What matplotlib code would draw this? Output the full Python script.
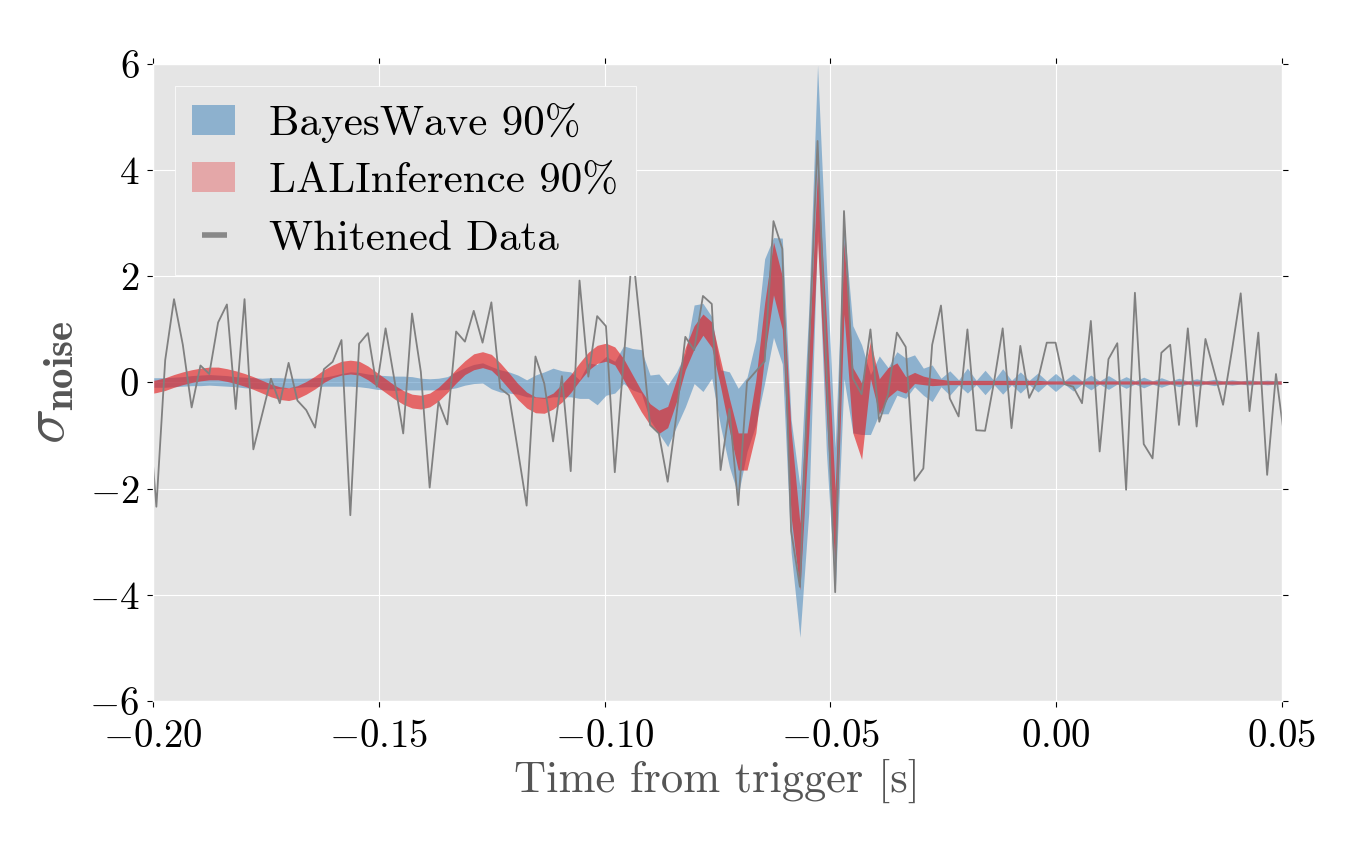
import matplotlib
matplotlib.use("Agg")
import matplotlib.pyplot as plt
import numpy as np
from matplotlib.lines import Line2D
from matplotlib.patches import Patch

# sample grid of the whitened strain (512 Hz), first sample just left of -0.2 s
SAMPLE_RATE = 512
T_START = -0.20126

whitened = [
    -0.30, -2.34, 0.42, 1.57, 0.71, -0.47, 0.32, 0.16, 1.13, 1.47,
    -0.50, 1.57, -1.26, -0.60, 0.07, -0.39, 0.37, -0.34, -0.52, -0.85,
    0.25, 0.39, 0.80, -2.50, 0.73, 0.93, -0.08, 1.02, 0.05, -0.96,
    1.30, 0.20, -1.98, -0.36, -0.79, 0.96, 0.77, 1.35, 0.75, 1.51,
    -0.11, -0.24, -1.27, -2.32, 0.49, -0.02, -1.11, 0.12, -1.67, 1.92,
    0.11, 1.25, 1.06, -1.69, 0.40, 2.50, 0.90, -0.80, -0.96, -1.87,
    -0.60, 0.86, 0.61, 1.63, 1.48, -1.65, -0.50, -2.31, 0.02, 0.21,
    0.40, 3.04, 2.52, -2.80, -3.85, 0.50, 4.55, 0.30, -3.95, 3.23,
    0.08, -0.22, 1.00, -0.74, -0.22, 0.94, 0.67, -1.85, -1.62, 0.71,
    1.45, -0.30, -0.64, 1.00, -0.90, -0.91, -0.01, 1.02, -0.86, 0.69,
    -0.29, 0.05, 0.75, 0.75, -0.03, -0.08, -0.39, 1.16, -1.30, 0.44,
    0.74, -2.02, 1.69, -1.16, -1.43, 0.56, 0.71, -0.80, 1.02, -0.83,
    0.82, 0.20, -0.42, 0.60, 1.68, -0.54, 0.94, -1.74, 0.16, -1.10,
]

# BayesWave 90% band
bw_lo = [
    -0.09, -0.09, -0.09, -0.08, -0.07, -0.06, -0.06, -0.05, -0.06, -0.07,
    -0.08, -0.10, -0.11, -0.12, -0.12, -0.11, -0.10, -0.09, -0.08, -0.08,
    -0.07, -0.07, -0.07, -0.07, -0.08, -0.10, -0.13, -0.14, -0.15, -0.14,
    -0.14, -0.14, -0.14, -0.14, -0.13, -0.10, -0.05, -0.02, -0.01, -0.12,
    -0.18, -0.20, -0.22, -0.27, -0.28, -0.30, -0.27, -0.27, -0.27, -0.30,
    -0.30, -0.42, -0.24, -0.20, -0.02, -0.14, -0.20, -0.71, -0.96, -1.21,
    -0.83, -0.46, -0.02, -0.17, 0.08, -0.83, -1.59, -2.12, -1.30, -0.80,
    -0.01, 0.85, 0.35, -3.20, -4.80, -2.46, 2.88, -1.31, -3.97, 0.07,
    -0.95, -0.98, -0.98, -0.59, -0.59, -0.24, -0.30, -0.08, -0.24, -0.36,
    -0.08, -0.24, -0.05, -0.20, -0.04, -0.23, -0.04, -0.22, -0.04, -0.20,
    -0.04, -0.18, -0.03, -0.17, -0.03, -0.16, -0.03, -0.14, -0.03, -0.13,
    -0.03, -0.11, -0.03, -0.10, -0.03, -0.09, -0.03, -0.08, -0.03, -0.07,
    -0.03, -0.06, -0.03, -0.05, -0.03, -0.05, -0.03, -0.045, -0.03, -0.04,
]
bw_hi = [
    0.09, 0.09, 0.09, 0.10, 0.11, 0.13, 0.14, 0.15, 0.14, 0.13,
    0.11, 0.10, 0.09, 0.08, 0.09, 0.09, 0.08, 0.08, 0.08, 0.09,
    0.10, 0.13, 0.17, 0.20, 0.19, 0.16, 0.14, 0.13, 0.12, 0.12,
    0.11, 0.08, 0.07, 0.08, 0.11, 0.20, 0.28, 0.34, 0.37, 0.30,
    0.24, 0.20, 0.14, 0.05, 0.14, 0.20, 0.27, 0.22, 0.20, 0.05,
    0.37, 0.34, 0.49, 0.40, 0.69, 0.64, 0.62, 0.14, 0.16, -0.05,
    0.20, 0.55, 1.46, 1.49, 1.24, 0.24, 0.20, -0.11, 0.10, 0.80,
    2.33, 2.73, 2.72, -0.70, -1.96, 1.37, 5.98, 2.23, -1.23, 3.00,
    1.07, 0.71, 0.15, 0.50, 0.28, 0.58, 0.46, 0.52, 0.27, 0.33,
    0.08, 0.22, 0.05, 0.27, 0.04, 0.23, 0.04, 0.26, 0.04, 0.20,
    0.04, 0.18, 0.03, 0.17, 0.03, 0.16, 0.03, 0.14, 0.03, 0.13,
    0.03, 0.11, 0.03, 0.10, 0.03, 0.09, 0.03, 0.08, 0.03, 0.07,
    0.03, 0.06, 0.03, 0.05, 0.03, 0.05, 0.03, 0.045, 0.03, 0.04,
]

# LALInference 90% band
li_lo = [
    -0.22, -0.19, -0.15, -0.09, -0.04, 0.00, 0.03, 0.05, 0.05, 0.02,
    -0.02, -0.07, -0.13, -0.20, -0.27, -0.32, -0.34, -0.30, -0.22, -0.12,
    0.00, 0.09, 0.14, 0.16, 0.14, 0.05, -0.07, -0.19, -0.31, -0.41,
    -0.48, -0.50, -0.46, -0.35, -0.19, -0.01, 0.15, 0.24, 0.28, 0.23,
    0.07, -0.12, -0.32, -0.48, -0.57, -0.58, -0.50, -0.37, -0.19, 0.03,
    0.23, 0.36, 0.40, 0.33, 0.05, -0.25, -0.55, -0.80, -0.96, -0.85,
    -0.36, 0.24, 0.63, 0.89, 0.66, -0.08, -0.90, -1.65, -1.65, -0.95,
    0.50, 1.65, 1.00, -2.53, -3.91, -0.95, 2.66, -0.59, -3.58, 1.29,
    -0.95, -1.45, 0.07, -0.59, -0.28, -0.14, -0.20, -0.02, -0.04, -0.06,
    -0.05, -0.04, -0.04, -0.04, -0.04, -0.04, -0.04, -0.04, -0.04, -0.04,
    -0.04, -0.04, -0.03, -0.03, -0.03, -0.03, -0.03, -0.03, -0.03, -0.03,
    -0.03, -0.03, -0.03, -0.03, -0.03, -0.03, -0.03, -0.03, -0.03, -0.03,
    -0.03, -0.03, -0.03, -0.03, -0.03, -0.03, -0.03, -0.03, -0.03, -0.03,
]
li_hi = [
    0.02, 0.05, 0.09, 0.15, 0.20, 0.24, 0.27, 0.29, 0.29, 0.26,
    0.22, 0.17, 0.11, 0.04, -0.03, -0.08, -0.10, -0.06, 0.02, 0.12,
    0.24, 0.33, 0.40, 0.42, 0.40, 0.31, 0.19, 0.07, -0.05, -0.15,
    -0.22, -0.24, -0.20, -0.09, 0.07, 0.25, 0.41, 0.54, 0.58, 0.53,
    0.37, 0.18, -0.02, -0.18, -0.27, -0.28, -0.20, -0.03, 0.15, 0.37,
    0.57, 0.70, 0.74, 0.67, 0.45, 0.15, -0.15, -0.40, -0.52, -0.45,
    0.06, 0.66, 1.07, 1.29, 1.14, 0.42, -0.30, -0.95, -0.95, 0.05,
    1.50, 2.65, 2.00, -0.90, -2.65, 0.50, 4.00, 1.21, -2.03, 2.66,
    0.28, -0.01, 0.78, 0.07, 0.28, 0.37, 0.11, 0.19, 0.12, 0.08,
    0.06, 0.04, 0.04, 0.04, 0.04, 0.04, 0.04, 0.04, 0.04, 0.04,
    0.04, 0.04, 0.03, 0.03, 0.03, 0.03, 0.03, 0.03, 0.03, 0.03,
    0.03, 0.03, 0.03, 0.03, 0.03, 0.03, 0.03, 0.03, 0.03, 0.03,
    0.03, 0.03, 0.03, 0.03, 0.03, 0.03, 0.03, 0.03, 0.03, 0.03,
]

BW_COLOR = "#377EB8"
LI_COLOR = "#E41A1C"
DATA_COLOR = "#808080"

plt.style.use("ggplot")
plt.rcParams["font.family"] = "serif"
plt.rcParams["font.serif"] = ["cmr10"]
plt.rcParams["mathtext.fontset"] = "cm"
plt.rcParams["axes.formatter.use_mathtext"] = True

t = T_START + np.arange(len(whitened)) / SAMPLE_RATE

fig = plt.figure(figsize=(13.61, 8.41), dpi=100)
ax = fig.add_axes([0.1126, 0.1665, 0.8291, 0.7574])

ax.fill_between(t, bw_lo, bw_hi, color=BW_COLOR, alpha=0.5, linewidth=0)
ax.fill_between(t, li_lo, li_hi, color=LI_COLOR, alpha=0.62, linewidth=0)
ax.plot(t, whitened, color=DATA_COLOR, linewidth=1.3)

ax.set_xlim(-0.2, 0.05)
ax.set_ylim(-6, 6)
ax.set_xticks([-0.2, -0.15, -0.1, -0.05, 0.0, 0.05])
ax.set_yticks([-6, -4, -2, 0, 2, 4, 6])
ax.tick_params(axis="both", which="major", labelsize=28, colors="black",
               direction="out", length=4, width=0.8, top=True, right=True)
ax.tick_params(axis="x", pad=9)
ax.tick_params(axis="y", pad=6)

ax.set_xlabel("Time from trigger [s]", fontsize=32, color="#555555",
              labelpad=3)
ax.set_ylabel(r"$\sigma_{\mathbf{noise}}$", fontsize=42, color="#555555",
              labelpad=9)

handles = [
    Patch(facecolor=BW_COLOR, alpha=0.5, edgecolor="none"),
    Patch(facecolor=LI_COLOR, alpha=0.3, edgecolor="none"),
    Line2D([], [], linestyle="none", marker="_", markersize=18,
           markeredgewidth=4, color="#888888"),
]
labels = ["BayesWave 90%", "LALInference 90%", "Whitened Data"]
leg = ax.legend(handles, labels, loc="upper left", fontsize=31,
                handlelength=1.0, handleheight=0.7, handletextpad=0.8,
                labelspacing=0.45, borderpad=0.4, frameon=True,
                framealpha=1.0, fancybox=False)
leg.get_frame().set_facecolor("#E5E5E5")
leg.get_frame().set_edgecolor("white")

fig.savefig("out.png", dpi=100)
